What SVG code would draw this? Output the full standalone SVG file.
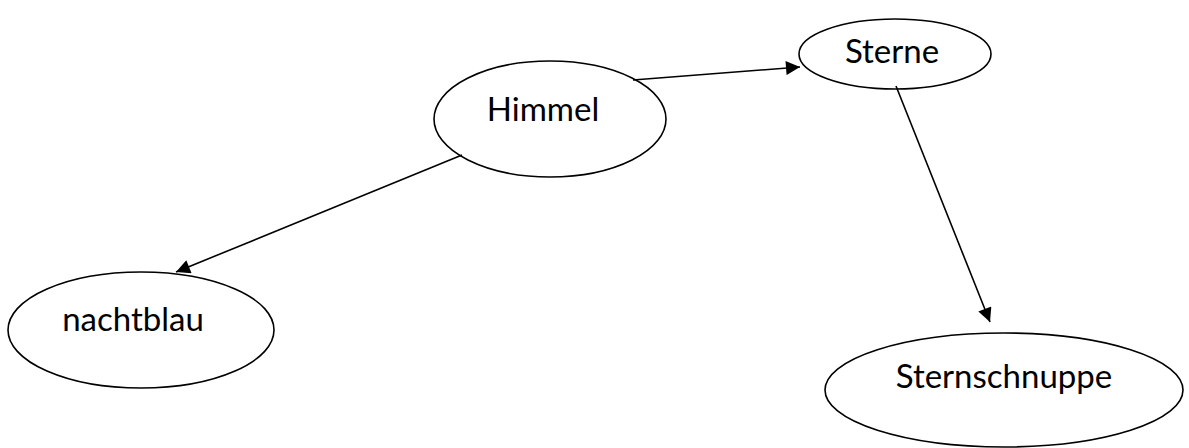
<svg xmlns="http://www.w3.org/2000/svg" width="1189" height="448" viewBox="0 0 1189 448">
<style>
.node ellipse{fill:#fff;stroke:#000;stroke-width:1.6}
.node text{font-family:Lato,"Liberation Sans",sans-serif;font-size:33px;fill:#000;text-anchor:middle}
.edge{stroke:#000;stroke-width:1.6;fill:none;marker-end:url(#arr)}
</style>
<defs>
<marker id="arr" viewBox="0 0 10 10" refX="10" refY="5" markerWidth="19" markerHeight="14" markerUnits="userSpaceOnUse" orient="auto">
<path d="M0,0 L10,5 L0,10 Z" fill="#000"/>
</marker>
</defs>
<rect width="1189" height="448" fill="#fff"/>
<g id="node-himmel" class="node">
<ellipse cx="550" cy="119" rx="116" ry="58"/>
<text x="543" y="121">Himmel</text>
</g>
<g id="node-sterne" class="node">
<ellipse cx="895" cy="54" rx="96" ry="35"/>
<text x="892" y="63">Sterne</text>
</g>
<g id="node-nachtblau" class="node">
<ellipse cx="141" cy="330" rx="133" ry="58"/>
<text x="133" y="331">nachtblau</text>
</g>
<g id="node-sternschnuppe" class="node">
<ellipse cx="1004" cy="390" rx="179" ry="57"/>
<text x="1004" y="388">Sternschnuppe</text>
</g>
<g id="connectors">
<line class="edge" x1="633" y1="80" x2="800" y2="67"/>
<line class="edge" x1="462" y1="155" x2="176" y2="272"/>
<line class="edge" x1="896" y1="86" x2="990" y2="322"/>
</g>
</svg>
